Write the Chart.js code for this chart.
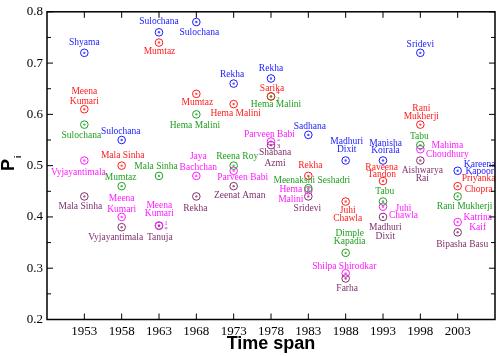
<!DOCTYPE html>
<html><head><meta charset="utf-8">
<script src="https://cdn.jsdelivr.net/npm/chart.js@4"></script>
<style>html,body{margin:0;padding:0;background:#fff}</style>
</head><body>
<canvas id="c" width="498" height="356" style="display:block;width:498px;height:356px"></canvas>
<script>
// ---------- data ----------
const years = [1953, 1958, 1963, 1968, 1973, 1978, 1983, 1988, 1993, 1998, 2003];
const xTickValues = [1953, 1958, 1963, 1968, 1973, 1978, 1983, 1988, 1993, 1998, 2003];
const yTickValues = [0.2, 0.3, 0.4, 0.5, 0.6, 0.7, 0.8];

const blueNames = ["Shyama","Sulochana","Sulochana","Sulochana","Rekha","Rekha","Sadhana","Madhuri Dixit","Manisha Koirala","Sridevi","Kareena Kapoor"];
const blueValues = [0.72, 0.55, 0.76, 0.78, 0.66, 0.67, 0.56, 0.51, 0.51, 0.72, 0.49];

const redNames = ["Meena Kumari","Mala Sinha","Mumtaz","Mumtaz","Hema Malini","Sarika","Rekha","Juhi Chawla","Raveena Tandon","Rani Mukherji","Priyanka Chopra"];
const redValues = [0.61, 0.50, 0.74, 0.64, 0.62, 0.635, 0.48, 0.43, 0.47, 0.58, 0.46];

const greenNames = ["Sulochana","Mumtaz","Mala Sinha","Hema Malini","Reena Roy","Hema Malini","Meenakshi Seshadri","Dimple Kapadia","Tabu","Tabu","Rani Mukherji"];
const greenValues = [0.58, 0.46, 0.48, 0.60, 0.50, 0.635, 0.456, 0.33, 0.43, 0.54, 0.44];

const magentaNames = ["Vyjayantimala","Meena Kumari","Meena Kumari","Jaya Bachchan","Parveen Babi","Parveen Babi","Hema Malini","Shilpa Shirodkar","Juhi Chawla","Mahima Choudhury","Katrina Kaif"];
const magentaValues = [0.51, 0.40, 0.383, 0.48, 0.49, 0.547, 0.452, 0.29, 0.42, 0.532, 0.39];

const purpleNames = ["Mala Sinha","Vyjayantimala","Tanuja","Rekha","Zeenat Aman","Shabana Azmi","Sridevi","Farha","Madhuri Dixit","Aishwarya Rai","Bipasha Basu"];
const purpleValues = [0.44, 0.38, 0.383, 0.44, 0.46, 0.54, 0.44, 0.28, 0.40, 0.51, 0.37];

// ---------- label placement (offsets of text block centre from the point, split into 2 lines?, line gap) ----------
const blueLabelPos = [[0,-10.7,0],[-1,-8.7,0],[0,-10.7,0],[3,10.3,0],[-1.5,-8.7,0],[0,-10,0],[1.5,-8.7,0],[1,-15,1,8.7],[2.5,-13.5,1,7.7],[0,-8.3,0],[22,-3,1,7.3]];
const redLabelPos = [[0,-12.7,1,9.3],[1,-10,0],[0.5,9.3,0],[1,8.7,0],[2,9,0],[1,-8.3,0],[2,-10.3,0],[2,12.7,1,8],[-1.3,-10.3,1,6.7],[1,-12.3,1,8],[21,-2,1,10.7]];
const greenLabelPos = [[-3,10.7,0],[-1,-9,0],[-3,-9.3,0],[-1.5,11.3,0],[3.5,-8.7,0],[5,8.3,0],[3.5,-7.3,0],[4,-15,1,8],[1.7,-9.7,0],[-1,-8.3,0],[7,9.7,0]];
const magentaLabelPos = [[-6,12.3,0],[0,-13.2,1,11],[0.3,-16.3,1,8.6],[2,-13.7,1,10.7],[9,7,0],[-1.5,-7.5,0],[-17.5,4,1,10],[-1.4,-6.7,0],[20.5,5,1,7],[27,1,1,9],[20,0,1,10]];
const purpleLabelPos = [[-4,10,0],[-6,10,0],[0.8,12.3,0],[-1,12,0],[6,9.3,0],[4,12.5,1,11],[-1,12,0],[1.5,9.7,0],[2.3,15.3,1,9.3],[2,14,1,8],[4.5,12.3,0]];

// small marks beside overlapping circles: [series index, point index, text, dx, dy]
const overlapMarks = [[3,2,"1",7,-2],[2+2,2,"*",7,3.5],[1,5,"4",7,-4],[2,5,"2",7,2.5],[3,5,"*",7.5,-0.5],[4,5,"3",7.5,1]];

const colors = ['#1a1aff','#ff1a1a','#1f9f1f','#ff1aff','#7f2f6a'];

const seriesNames = [blueNames, redNames, greenNames, magentaNames, purpleNames];
const seriesValues = [blueValues, redValues, greenValues, magentaValues, purpleValues];
const seriesLabelPos = [blueLabelPos, redLabelPos, greenLabelPos, magentaLabelPos, purpleLabelPos];

const datasets = seriesValues.map((vals, i) => ({
  data: years.map((y, j) => ({x: y, y: vals[j]})),
  showLine: false,
  pointStyle: 'circle',
  pointRadius: 3.8,
  pointHoverRadius: 3.8,
  pointBorderWidth: 1,
  borderColor: colors[i],
  backgroundColor: 'rgba(0,0,0,0)',
  pointBackgroundColor: 'rgba(0,0,0,0)'
}));

const decor = {
  id: 'decor',
  afterDatasetsDraw(chart) {
    const ctx = chart.ctx;
    const a = chart.chartArea;
    const xs = chart.scales.x, ys = chart.scales.y;
    ctx.save();
    // inner glyph of each marker
    chart.data.datasets.forEach((ds, i) => {
      const meta = chart.getDatasetMeta(i);
      meta.data.forEach(el => {
        ctx.fillStyle = colors[i];
        ctx.globalAlpha = 0.75;
        ctx.beginPath();
        ctx.arc(el.x, el.y, 1.2, 0, Math.PI * 2);
        ctx.fill();
        ctx.globalAlpha = 1;
      });
    });
    // labels
    ctx.font = '9.5px "Liberation Serif", "Times New Roman", serif';
    ctx.textAlign = 'center';
    ctx.textBaseline = 'middle';
    chart.data.datasets.forEach((ds, i) => {
      const meta = chart.getDatasetMeta(i);
      meta.data.forEach((el, j) => {
        const name = seriesNames[i][j];
        const p = seriesLabelPos[i][j];
        ctx.fillStyle = colors[i];
        const cx = el.x + p[0], cy = el.y + p[1];
        if (p[2]) {
          const k = name.indexOf(' ');
          const l1 = name.slice(0, k), l2 = name.slice(k + 1);
          const g = p[3] || 9;
          ctx.fillText(l1, cx, cy - g / 2);
          ctx.fillText(l2, cx, cy + g / 2);
        } else {
          ctx.fillText(name, cx, cy);
        }
      });
    });
    // overlap marks
    ctx.font = '7px "Liberation Serif", serif';
    overlapMarks.forEach(m => {
      const el = chart.getDatasetMeta(m[0]).data[m[1]];
      ctx.fillStyle = colors[m[0]];
      ctx.fillText(m[2], el.x + m[3], el.y + m[4]);
    });
    // frame
    ctx.strokeStyle = '#000';
    ctx.lineWidth = 1.5;
    ctx.strokeRect(a.left, a.top, a.right - a.left, a.bottom - a.top);
    // inner ticks
    ctx.lineWidth = 1;
    ctx.beginPath();
    for (let v = 0.2; v <= 0.8001; v += 0.05) {
      const y = ys.getPixelForValue(v);
      const major = Math.abs(v * 10 - Math.round(v * 10)) < 1e-6;
      const L = major ? 6 : 4;
      ctx.moveTo(a.left, y); ctx.lineTo(a.left + L, y);
      ctx.moveTo(a.right, y); ctx.lineTo(a.right - L, y);
    }
    xTickValues.forEach(v => {
      const x = xs.getPixelForValue(v);
      ctx.moveTo(x, a.bottom); ctx.lineTo(x, a.bottom - 6);
      ctx.moveTo(x, a.top); ctx.lineTo(x, a.top + 6);
    });
    ctx.stroke();
    // axis titles
    ctx.fillStyle = '#000';
    ctx.font = 'bold 18px "Liberation Sans", Arial, sans-serif';
    ctx.textAlign = 'center';
    ctx.textBaseline = 'middle';
    ctx.fillText('Time span', (a.left + a.right) / 2, 344);
    ctx.save();
    ctx.translate(14, 171);
    ctx.rotate(-Math.PI / 2);
    ctx.textAlign = 'left';
    ctx.textBaseline = 'alphabetic';
    ctx.fillText('P', 0, 0);
    const w = ctx.measureText('P').width;
    ctx.font = 'bold 9px "Liberation Sans", Arial, sans-serif';
    ctx.fillText('i', w + 1, 7);
    ctx.restore();
    ctx.restore();
  }
};

new Chart(document.getElementById('c'), {
  type: 'scatter',
  data: { datasets },
  options: {
    responsive: false,
    animation: false,
    devicePixelRatio: 1,
    layout: { autoPadding: false, padding: { top: 5.7, right: 3, left: 0, bottom: 0 } },
    plugins: { legend: { display: false }, tooltip: { enabled: false } },
    scales: {
      x: {
        type: 'linear', min: 1948, max: 2008,
        afterBuildTicks: s => { s.ticks = xTickValues.map(v => ({ value: v })); },
        afterFit: s => { s.height = 36.5; },
        grid: { display: false, drawTicks: false },
        border: { display: false },
        ticks: { color: '#000', padding: 4, maxRotation: 0, autoSkip: false,
          font: { family: '"Liberation Serif", serif', size: 13 },
          callback: v => String(v) }
      },
      y: {
        type: 'linear', min: 0.2, max: 0.8,
        afterBuildTicks: s => { s.ticks = yTickValues.map(v => ({ value: v })); },
        afterFit: s => { s.width = 47; },
        grid: { display: false, drawTicks: false },
        border: { display: false },
        ticks: { color: '#000', padding: 4,
          font: { family: '"Liberation Serif", serif', size: 13 },
          callback: v => Number(v).toFixed(1) }
      }
    }
  },
  plugins: [decor]
});
</script>
</body></html>
